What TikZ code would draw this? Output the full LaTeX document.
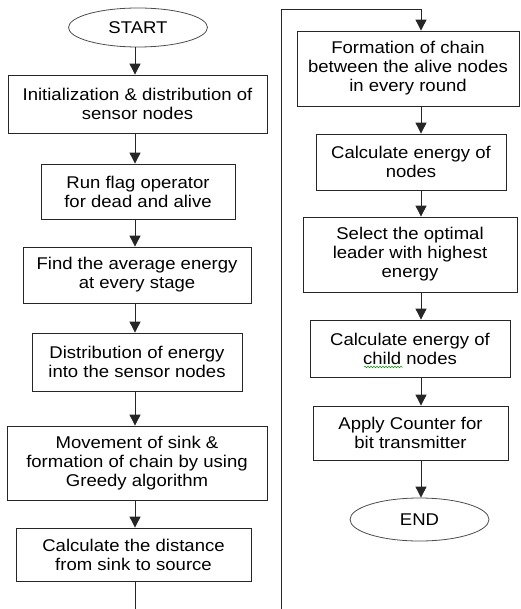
\documentclass[tikz,border=0pt]{standalone}
\usepackage{fontspec}
\setmainfont[FakeStretch=1.09]{Liberation Sans}
\usetikzlibrary{shapes.geometric,arrows.meta,decorations.pathmorphing}
\tikzset{
  blk/.style={draw=black!85, rectangle, align=center, inner sep=0pt, line width=0.8pt,
    font=\fontsize{17}{19}\selectfont},
  term/.style={draw=black!70, ellipse, inner sep=0pt, line width=0.8pt,
    font=\fontsize{17}{19}\selectfont},
  arr/.style={-{Triangle[width=11pt,length=11pt]}, line width=0.9pt, black!85},
  lin/.style={line width=0.9pt, black!85}
}
\begin{document}
\begin{tikzpicture}[x=1pt,y=-1pt]
        \useasboundingbox (0,0) rectangle (520,609);
        % Colonna sinistra
        \node[term, minimum width=139, minimum height=39] (start) at (138,27.5) {START};
        \node[blk, minimum width=259, minimum height=58] (init) at (137.5,104) {Initialization \& distribution of\\sensor nodes};
        \node[blk, minimum width=194, minimum height=55] (flag) at (138,191.5) {Run flag operator\\for dead and alive};
        \node[blk, minimum width=228, minimum height=56] (avg) at (137,275) {Find the average energy\\at every stage};
        \node[blk, minimum width=210, minimum height=58] (distr) at (137,362) {Distribution of energy\\into the sensor nodes};
        \node[blk, minimum width=260, minimum height=74] (sink) at (137,463) {Movement of sink \&\\formation of chain by using\\Greedy algorithm};
        \node[blk, minimum width=235, minimum height=53] (dist) at (133.5,554.5) {Calculate the distance\\from sink to source};
        % Colonna destra
        \node[blk, minimum width=222, minimum height=75] (chain) at (408,68.5) {Formation of chain\\between the alive nodes\\in every round};
        \node[blk, minimum width=190, minimum height=56] (ener) at (411,162) {Calculate energy of\\nodes};
        \node[blk, minimum width=214, minimum height=75] (lead) at (410,254.5) {Select the optimal\\leader with highest\\energy};
        \node[blk, minimum width=200, minimum height=57] (child) at (410,348.5) {Calculate energy of\\child nodes};
        \node[blk, minimum width=195, minimum height=54] (count) at (410.5,433) {Apply Counter for\\bit transmitter};
        \node[term, minimum width=139, minimum height=43] (fin) at (419.5,519.5) {END};
        % Assi delle frecce
        \coordinate (lx) at (135,0);
        \coordinate (rx) at (421,0);
        \coordinate (lbot) at (135,609);
        \coordinate (rbot) at (281,609);
        \coordinate (rtop) at (281,9);
        % Frecce
        \draw[arr] (start.south -| lx) -- (init.north -| lx);
        \draw[arr] (init.south -| lx) -- (flag.north -| lx);
        \draw[arr] (flag.south -| lx) -- (avg.north -| lx);
        \draw[arr] (avg.south -| lx) -- (distr.north -| lx);
        \draw[arr] (distr.south -| lx) -- (sink.north -| lx);
        \draw[arr] (sink.south -| lx) -- (dist.north -| lx);
        \draw[lin] (dist.south -| lx) -- (lbot);
        \draw[arr] (rbot) -- (rtop) -| (chain.north -| rx);
        \draw[arr] (chain.south -| rx) -- (ener.north -| rx);
        \draw[arr] (ener.south -| rx) -- (lead.north -| rx);
        \draw[arr] (lead.south -| rx) -- (child.north -| rx);
        \draw[arr] (child.south -| rx) -- (count.north -| rx);
        \draw[arr] (count.south -| rx) -- (fin.north -| rx);
        % Sottolineatura
        \draw[green!60!black, line width=0.5pt, decorate, decoration={snake, amplitude=0.8pt, segment length=3pt}] (364,367) -- (403,367);
\end{tikzpicture}
\end{document}
